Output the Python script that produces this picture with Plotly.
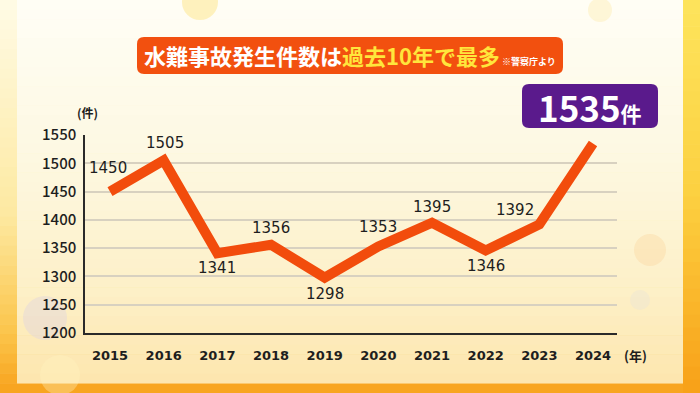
import plotly.graph_objects as go

years = [2015, 2016, 2017, 2018, 2019, 2020, 2021, 2022, 2023, 2024]
cases = [1450, 1505, 1341, 1356, 1298, 1353, 1395, 1346, 1392, 1535]
# label offsets (pixels) for each data label; None = no label
label_dx = [-2, 1, 0, 0, 0, 0, 0, 0, -24, None]
label_dy = [24, 17, -15, 17, -16, 19, 16, -16, 14, None]
y_ticks = [1200, 1250, 1300, 1350, 1400, 1450, 1500, 1550]

W, H = 700, 393
L, R, T, B = 85, 83, 135, 60
PW, PH = W - L - R, H - T - B


def px(x):
    return (x - L) / PW


def py(y):
    return (H - B - y) / PH


def hexmix(c1, c2, t):
    a = [int(c1[i:i + 2], 16) for i in (1, 3, 5)]
    b = [int(c2[i:i + 2], 16) for i in (1, 3, 5)]
    return "#%02x%02x%02x" % tuple(round(a[k] + (b[k] - a[k]) * t) for k in range(3))


def grad_stops(stops, t):
    for i in range(len(stops) - 1):
        t0, c0 = stops[i]
        t1, c1 = stops[i + 1]
        if t0 <= t <= t1:
            return hexmix(c0, c1, (t - t0) / (t1 - t0) if t1 > t0 else 0)
    return stops[-1][1]


shapes = []


def vgrad(x0, x1, y0, y1, stops, n=40):
    h = (y1 - y0) / n
    for i in range(n):
        t = (i + 0.5) / n
        shapes.append(dict(type="rect", xref="paper", yref="paper", layer="below",
                           x0=px(x0), x1=px(x1), y0=py(y0 + i * h), y1=py(y0 + (i + 1) * h + 0.5),
                           fillcolor=grad_stops(stops, t), line=dict(width=0)))


# outer background
vgrad(0, W, 0, H, [(0, "#fffbe6"), (0.55, "#fde9a0"), (0.85, "#fbc44a"), (1, "#f8a21c")], n=40)
# right strip
vgrad(683, W, 0, H, [(0, "#fde45c"), (0.5, "#fcd040"), (1, "#f8a018")], n=30)
# inner panel
vgrad(17, 683, 0, 383, [(0, "#fffef6"), (0.4, "#fdf8e2"), (0.75, "#fdf0c8"), (1, "#fde6ae")], n=40)

# faint bokeh circles
for (cx, cy, r, col, op) in [(200, 2, 18, "#fde27a", 0.45), (45, 318, 22, "#d8cde8", 0.35),
                             (60, 375, 20, "#fff3c0", 0.35), (650, 250, 16, "#fbd7a0", 0.4),
                             (640, 300, 10, "#e8e4d8", 0.4), (600, 10, 12, "#fde8a0", 0.35)]:
    shapes.append(dict(type="circle", xref="paper", yref="paper", layer="below",
                       x0=px(cx - r), x1=px(cx + r), y0=py(cy + r), y1=py(cy - r),
                       fillcolor=col, opacity=op, line=dict(width=0)))


def rrect(x0, y0, x1, y1, r, color):
    p = (f"M {px(x0 + r)},{py(y0)} L {px(x1 - r)},{py(y0)} Q {px(x1)},{py(y0)} {px(x1)},{py(y0 + r)} "
         f"L {px(x1)},{py(y1 - r)} Q {px(x1)},{py(y1)} {px(x1 - r)},{py(y1)} "
         f"L {px(x0 + r)},{py(y1)} Q {px(x0)},{py(y1)} {px(x0)},{py(y1 - r)} "
         f"L {px(x0)},{py(y0 + r)} Q {px(x0)},{py(y0)} {px(x0 + r)},{py(y0)} Z")
    shapes.append(dict(type="path", xref="paper", yref="paper", path=p,
                       fillcolor=color, line=dict(width=0), layer="below"))


rrect(137, 37, 563, 74, 7, "#f2500f")
rrect(522, 84, 658, 128, 7, "#5a1a8c")

FONT = "Noto Sans CJK JP"
NUM = "DejaVu Sans"


def note(x, y, text, size, color="#1e1e1e", weight=None, family=FONT):
    f = dict(family=family, size=size, color=color)
    if weight:
        f["weight"] = weight
    return dict(x=px(x), y=py(y), xref="paper", yref="paper", showarrow=False,
                xanchor="center", yanchor="middle", text=text, font=f)


annotations = []
for x, y, dx, dy in zip(years, cases, label_dx, label_dy):
    if dx is None:
        continue
    annotations.append(dict(x=x, y=y, xref="x", yref="y", text=str(y), showarrow=False,
                            xanchor="center", yanchor="middle",
                            xshift=dx, yshift=dy,
                            font=dict(family=NUM, size=15, color="#1e1e1e")))

annotations += [
    note(350, 55.5, "<b>水難事故発生件数は<span style='color:#ffe63c'>過去10年で最多</span></b>"
                    "<span style='font-size:9px'><b> ※警察庁より</b></span>", 22, "white"),
    note(590, 106, "<b>1535<span style='font-size:21px'>件</span></b>", 35, "white"),
    note(87, 113, "(件)", 12, weight=600),
    note(635, 355, "(年)", 13, weight=600),
]

fig = go.Figure()
fig.add_trace(go.Scatter(x=years, y=cases, mode="lines",
                         line=dict(color="#f24c0c", width=10), hoverinfo="skip"))

fig.update_layout(
    width=W, height=H,
    margin=dict(l=L, r=R, t=T, b=B, pad=0),
    paper_bgcolor="#fdf3d0", plot_bgcolor="rgba(0,0,0,0)",
    showlegend=False,
    shapes=shapes,
    annotations=annotations,
    xaxis=dict(range=[2014.534, 2024.447], tickvals=years, ticktext=[str(y) for y in years],
               showgrid=False, zeroline=False, showline=True, linecolor="#2a2a2a", linewidth=1.5,
               ticks="", ticklabelstandoff=10,
               tickfont=dict(family=NUM, size=13, color="#1e1e1e", weight="bold")),
    yaxis=dict(range=[1200, 1550], tickvals=y_ticks, showgrid=True, gridcolor="#d8d1c0",
               gridwidth=1.5, zeroline=False, showline=True, linecolor="#2a2a2a", linewidth=1.5,
               ticks="", ticklabelstandoff=4,
               tickfont=dict(family=FONT, size=15, color="#1e1e1e", weight=500)),
)

fig.write_html("out.html", config={"displayModeBar": False},
               post_script="document.body.style.margin='0';document.body.style.overflow='hidden';")
